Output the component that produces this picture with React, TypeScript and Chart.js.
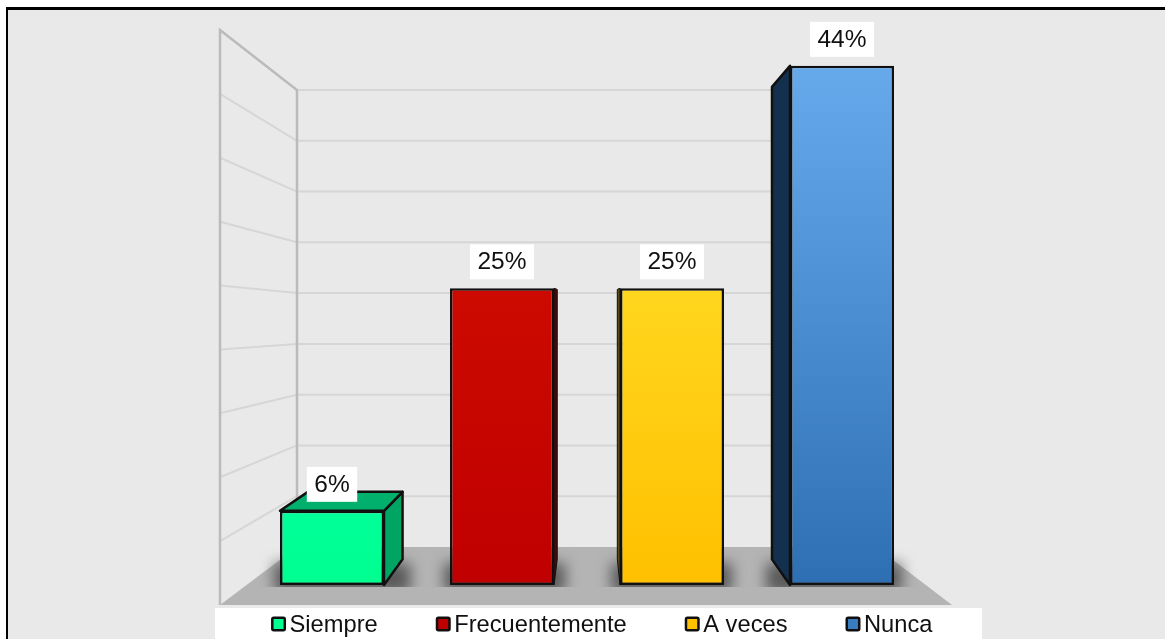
import React, { useEffect, useRef } from "react";
import { Chart, registerables } from "chart.js";

Chart.register(...registerables);

const categories = ["Siempre", "Frecuentemente", "A veces", "Nunca"];
const percentages = [6.25, 25, 25, 43.75];
const gradientTop = ["#00FF99", "#CC0A00", "#FFD61E", "#66AAEC"];
const gradientBottom = ["#00FF90", "#C00000", "#FFC000", "#2E6FB4"];
const legendColors = ["#00FF90", "#C00000", "#FFC000", "#3A7CC0"];
const sideColors = ["#00A463", "#4A0805", "#5A4A18", "#14304F"];
const topColors = ["#00B06C", "#8A0A05", "#A08010", "#1E4468"];

const FONT = '"Liberation Sans", Arial, sans-serif';
const INK = "#101010";

// Vanishing point and depth factor of the oblique bar extrusion.
const VP_X = 590;
const VP_Y = 300;
const DEPTH = 0.09;
const recede = (x: number, y: number): [number, number] => [
  x + (VP_X - x) * DEPTH,
  y + (VP_Y - y) * DEPTH,
];

// Corners of the open box: side wall, back wall and floor.
const WALL_FRONT_X = 220;
const WALL_BACK_X = 297;
const FRONT_FLOOR_Y = 605;
const FRONT_TOP_Y = 30;
const BACK_FLOOR_Y = 547;
const BACK_TOP_Y = 90;
const FLOOR_BACK_RIGHT = 876;
const FLOOR_FRONT_RIGHT = 952;

const polygon = (
  ctx: CanvasRenderingContext2D,
  pts: [number, number][],
  fill: string,
  lineWidth: number
) => {
  ctx.beginPath();
  pts.forEach(([x, y], i) => (i ? ctx.lineTo(x, y) : ctx.moveTo(x, y)));
  ctx.closePath();
  ctx.fillStyle = fill;
  ctx.fill();
  ctx.strokeStyle = INK;
  ctx.lineWidth = lineWidth;
  ctx.lineJoin = "round";
  ctx.stroke();
};

const boxPlugin = {
  id: "box3d",
  beforeDraw(chart: any) {
    const { ctx, width, height } = chart;
    ctx.save();
    ctx.fillStyle = "#FFFFFF";
    ctx.fillRect(0, 0, width, height);
    ctx.fillStyle = "#E9E9E9";
    ctx.fillRect(8, 9, width - 8, height - 9);
    ctx.fillStyle = "#000000";
    ctx.fillRect(6, 7, width - 6, 3);
    ctx.fillRect(6, 7, 2, height - 7);
    ctx.restore();
  },
  beforeDatasetsDraw(chart: any) {
    const { ctx, scales } = chart;
    const y = scales.y;
    const maxValue = y.max;
    ctx.save();

    // Floor
    ctx.beginPath();
    ctx.moveTo(WALL_FRONT_X, FRONT_FLOOR_Y);
    ctx.lineTo(FLOOR_FRONT_RIGHT, FRONT_FLOOR_Y);
    ctx.lineTo(FLOOR_BACK_RIGHT, BACK_FLOOR_Y);
    ctx.lineTo(WALL_BACK_X, BACK_FLOOR_Y);
    ctx.closePath();
    ctx.fillStyle = "#B4B4B4";
    ctx.fill();

    // Gridlines follow the value axis ticks across both walls
    y.ticks.forEach((tick: any) => {
      if (tick.value === 0) return;
      const t = tick.value / maxValue;
      const front = FRONT_FLOOR_Y + (FRONT_TOP_Y - FRONT_FLOOR_Y) * t;
      const back = BACK_FLOOR_Y + (BACK_TOP_Y - BACK_FLOOR_Y) * t;
      ctx.strokeStyle = "#D6D6D6";
      ctx.lineWidth = 2;
      ctx.beginPath();
      ctx.moveTo(WALL_FRONT_X, front);
      ctx.lineTo(WALL_BACK_X, back);
      ctx.stroke();
      ctx.beginPath();
      ctx.moveTo(WALL_BACK_X, back);
      ctx.lineTo(FLOOR_BACK_RIGHT, back);
      ctx.stroke();
    });

    // Wall edges
    ctx.strokeStyle = "#BBBBBB";
    ctx.lineWidth = 2.5;
    ctx.beginPath();
    ctx.moveTo(WALL_FRONT_X, FRONT_FLOOR_Y);
    ctx.lineTo(WALL_FRONT_X, FRONT_TOP_Y);
    ctx.lineTo(WALL_BACK_X, BACK_TOP_Y);
    ctx.lineTo(WALL_BACK_X, BACK_FLOOR_Y);
    ctx.stroke();

    const meta = chart.getDatasetMeta(0);

    // Soft contact shadows around the bar bases
    ctx.save();
    ctx.beginPath();
    ctx.rect(WALL_FRONT_X, BACK_FLOOR_Y, FLOOR_FRONT_RIGHT - WALL_FRONT_X, 40);
    ctx.clip();
    ctx.filter = "blur(7px)";
    ctx.fillStyle = "rgba(60,60,60,0.75)";
    meta.data.forEach((bar: any) => {
      const half = bar.width / 2;
      const [bx] = recede(bar.x + half, bar.base);
      const [lx] = recede(bar.x - half, bar.base);
      const left = Math.min(bar.x - half, lx) - 6;
      const right = Math.max(bar.x + half, bx) + 8;
      ctx.fillRect(left, bar.base - 22, right - left, 30);
    });
    ctx.filter = "none";
    ctx.restore();

    // Receding faces of each bar
    meta.data.forEach((bar: any, i: number) => {
      const half = bar.width / 2;
      const l = bar.x - half;
      const r = bar.x + half;
      const top = bar.y;
      const base = bar.base;
      const sideX = bar.x < VP_X ? r : l;
      const faceDepth = Math.abs(recede(sideX, top)[0] - sideX);
      polygon(
        ctx,
        [
          [sideX, top],
          recede(sideX, top),
          recede(sideX, base),
          [sideX, base],
        ],
        sideColors[i],
        faceDepth < 6 ? 1 : 2.5
      );
      if (recede(l, top)[1] < top - 3) {
        polygon(ctx, [[l, top], recede(l, top), recede(r, top), [r, top]], topColors[i], 2.5);
      }
    });
    ctx.restore();
  },
  afterDatasetsDraw(chart: any) {
    const { ctx } = chart;
    const meta = chart.getDatasetMeta(0);
    ctx.save();
    ctx.textBaseline = "middle";

    // Value labels on white plates above each bar
    ctx.font = `24.5px ${FONT}`;
    ctx.textAlign = "center";
    meta.data.forEach((bar: any, i: number) => {
      const text = `${percentages[i].toFixed(0)}%`;
      const w = ctx.measureText(text).width + 15;
      const cy = bar.y - 26;
      ctx.fillStyle = "#FFFFFF";
      ctx.fillRect(bar.x - w / 2, cy - 18, w, 35);
      ctx.fillStyle = INK;
      ctx.fillText(text, bar.x, cy);
    });

    // Legend strip along the bottom edge
    const stripLeft = 215;
    const stripRight = 982;
    ctx.fillStyle = "#FFFFFF";
    ctx.fillRect(stripLeft, 608, stripRight - stripLeft, chart.height - 608);
    ctx.font = `23.7px ${FONT}`;
    ctx.textAlign = "left";
    const swatch = 15;
    const swatchGap = 3.5;
    const itemGap = 58;
    const widths = categories.map((c) => ctx.measureText(c).width);
    const total =
      widths.reduce((a, b) => a + b + swatch + swatchGap, 0) + itemGap * (categories.length - 1);
    let x = (stripLeft + stripRight) / 2 - total / 2 + 3.25;
    const rowY = 624;
    categories.forEach((label, i) => {
      ctx.fillStyle = legendColors[i];
      ctx.strokeStyle = INK;
      ctx.lineWidth = 2.5;
      ctx.beginPath();
      ctx.roundRect(x + 1.25, rowY - 6.25, swatch - 2.5, swatch - 2.5, 1.5);
      ctx.fill();
      ctx.stroke();
      ctx.fillStyle = INK;
      ctx.fillText(label, x + swatch + swatchGap, rowY + 1);
      x += swatch + swatchGap + widths[i] + itemGap;
    });
    ctx.restore();
  },
};

export default function App() {
  const canvasRef = useRef<HTMLCanvasElement>(null);

  useEffect(() => {
    const canvas = canvasRef.current;
    if (!canvas) return;
    const chart = new Chart(canvas, {
      type: "bar",
      data: {
        labels: categories,
        datasets: [
          {
            data: percentages,
            borderColor: INK,
            borderWidth: 2.5,
            borderSkipped: false,
            barPercentage: 104 / 170,
            categoryPercentage: 1,
            backgroundColor: (c: any) => {
              const i = c.dataIndex;
              const y = c.chart.scales?.y;
              if (i === undefined) return gradientBottom[0];
              const top = y?.getPixelForValue(percentages[i]);
              const bottom = y?.getPixelForValue(0);
              if (!Number.isFinite(top) || !Number.isFinite(bottom)) return gradientBottom[i];
              const g = c.chart.ctx.createLinearGradient(0, top, 0, bottom);
              g.addColorStop(0, gradientTop[i]);
              g.addColorStop(1, gradientBottom[i]);
              return g;
            },
          },
        ],
      },
      options: {
        responsive: false,
        animation: false,
        layout: { padding: { left: 247, right: 238, top: 51, bottom: 54 } },
        plugins: { legend: { display: false }, tooltip: { enabled: false }, title: { display: false } },
        scales: {
          x: { display: false, grid: { display: false } },
          y: {
            display: false,
            min: 0,
            max: 45,
            ticks: { stepSize: 5 },
            grid: { display: false },
          },
        },
      },
      plugins: [boxPlugin],
    });
    return () => chart.destroy();
  }, []);

  return (
    <canvas
      ref={canvasRef}
      width={1165}
      height={639}
      style={{ position: "fixed", left: 0, top: 0, display: "block" }}
    />
  );
}
